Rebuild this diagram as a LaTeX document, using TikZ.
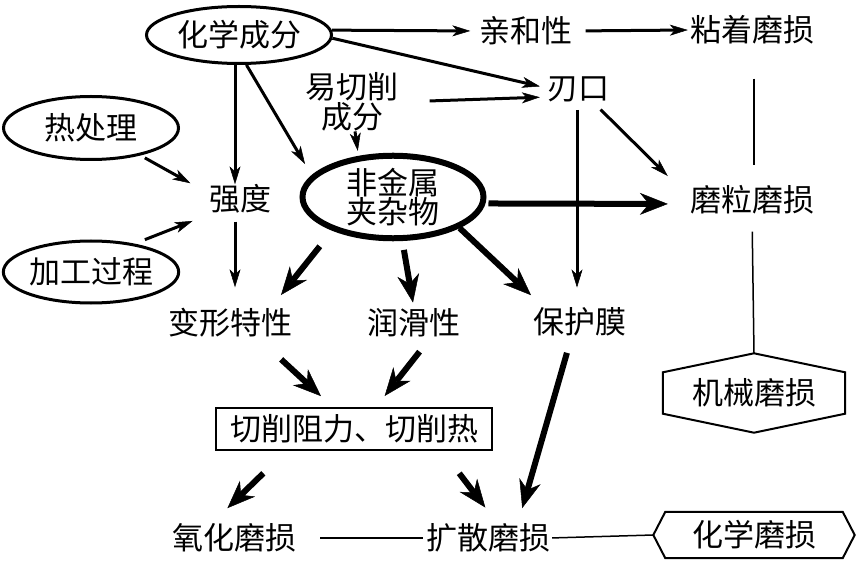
\documentclass[tikz,border=0pt]{standalone}
\usepackage{fontspec}
\setmainfont{Noto Sans CJK SC}
\usetikzlibrary{arrows.meta, shapes.geometric}
\tikzset{
  every node/.style={font=\fontsize{31pt}{27pt}\selectfont, inner sep=0pt, align=center},
  oval/.style={ellipse, draw, line width=3pt},
  midarr/.style={line width=3pt, -{Stealth[length=18pt, width=11pt, inset=5pt, line width=0.5pt]}},
  bigarr/.style={line width=6pt, -{Stealth[length=28pt, width=22pt, inset=9pt, line width=0.5pt]}},
  link/.style={line width=1.5pt},
  hexline/.style={line width=2pt, line join=miter},
}

\begin{document}
\begin{tikzpicture}[x=1pt, y=-1pt]
  \useasboundingbox (0,0) rectangle (856,561);

  % causes
  \node[oval, minimum width=185pt, minimum height=57pt] (hx) at (239,35) {化学成分};
  \node[oval, minimum width=175pt, minimum height=63pt] (rq) at (91,128) {热处理};
  \node[oval, minimum width=175pt, minimum height=62pt] (jg) at (91,272) {加工过程};
  \node[oval, line width=6pt, minimum width=181pt, minimum height=71pt] (fj) at (393,197) {非金属\\夹杂物};
  \node (yq) at (352,102) {易切削\\成分};

  % properties
  \node (qh) at (526,31)  {亲和性};
  \node (rk) at (578,89)  {刃口};
  \node (qd) at (240,199) {强度};
  \node (bx) at (230,323) {变形特性};
  \node (rh) at (414,323) {润滑性};
  \node (bh) at (580,322) {保护膜};
  \node[draw, line width=2pt, minimum width=276pt, minimum height=42pt] (qx) at (354,429) {切削阻力、切削热};

  % wear
  \node (nz) at (752,30)  {粘着磨损};
  \node (ml) at (752,200) {磨粒磨损};
  \node (yh) at (234,538) {氧化磨损};
  \node (ks) at (488,538) {扩散磨损};
  \node[minimum width=182pt, minimum height=41pt] (jx) at (754,393) {机械磨损};
  \node[minimum width=177pt, minimum height=46pt] (hm) at (754,535) {化学磨损};

  \coordinate (jxtop) at ([yshift=19pt]jx.north);
  \coordinate (jxbot) at ([yshift=-19pt]jx.south);
  \coordinate (hmleft)  at ([xshift=-12pt]hm.west);
  \coordinate (hmright) at ([xshift=12pt]hm.east);
  \draw[hexline] (jx.north west) -- (jxtop) -- (jx.north east) -- (jx.south east)
                 -- (jxbot) -- (jx.south west) -- cycle;
  \draw[hexline] (hmleft) -- (hm.north west) -- (hm.north east) -- (hmright)
                 -- (hm.south east) -- (hm.south west) -- cycle;

  % arrows
  \draw (hx.3)  edge[midarr, shorten >=9pt]                 (qh.west)
        (qh.east) edge[midarr, shorten <=13pt, shorten >=2pt] (nz.west)
        (hx.-2) edge[midarr, shorten >=7pt]                 ([yshift=1pt]rk.west)
        (yq.east) edge[midarr, shorten <=31pt, shorten >=7pt] ([yshift=-8pt]rk.west)
        ([xshift=-4pt]hx.south) edge[midarr]                ([xshift=-5pt]qd.north)
        (hx.-76) edge[midarr, shorten >=13pt]               (fj.165)
        ([xshift=3pt]yq.south) edge[midarr, shorten >=5pt]  (fj.130)
        (rq.-29) edge[midarr, shorten <=5pt, shorten >=21pt]  (qd.170)
        (jg.33)  edge[midarr, shorten <=11pt, shorten >=20pt] (qd.207)
        ([xshift=-5pt]qd.south) edge[midarr, shorten <=8pt, shorten >=21pt] ([xshift=5pt]bx.north)
        ([xshift=-1pt]rk.south) edge[midarr, shorten <=8pt, shorten >=20pt] ([xshift=-3pt]bh.north)
        (rk.-41) edge[midarr, shorten <=11pt, shorten >=31pt] (ml.178);

  \draw (fj.209) edge[bigarr, shorten <=20pt, shorten >=17pt] (bx.20)
        (fj.-78) edge[bigarr, shorten <=9pt, shorten >=6pt]   (rh.north)
        (fj.-25) edge[bigarr, shorten >=18pt]                 (bh.158)
        (fj.-4)  edge[bigarr, shorten <=3pt, shorten >=22pt]  ([yshift=-4pt]ml.west)
        (bx.-28) edge[bigarr, shorten <=32pt, shorten >=16pt] (qx.134)
        (rh.-41) edge[bigarr, shorten <=18pt, shorten >=14pt] (qx.45)
        (bh.240) edge[bigarr, shorten <=17pt, shorten >=16pt] (ks.26)
        (qx.198) edge[bigarr, shorten <=32pt, shorten >=22pt] (yh.147)
        (qx.-14) edge[bigarr, shorten <=28pt, shorten >=20pt] (ks.57);

  % plain links
  \draw[link] ([xshift=2pt]nz.south) edge[shorten <=34pt, shorten >=20pt] ([xshift=2pt]ml.north)
              (ml.south) edge[shorten <=17pt] (jxtop)
              (yh.east)  edge[shorten <=24pt, shorten >=3pt] (ks.west)
              (ks.east)  edge[shorten <=2pt] (hmleft);
\end{tikzpicture}
\end{document}
